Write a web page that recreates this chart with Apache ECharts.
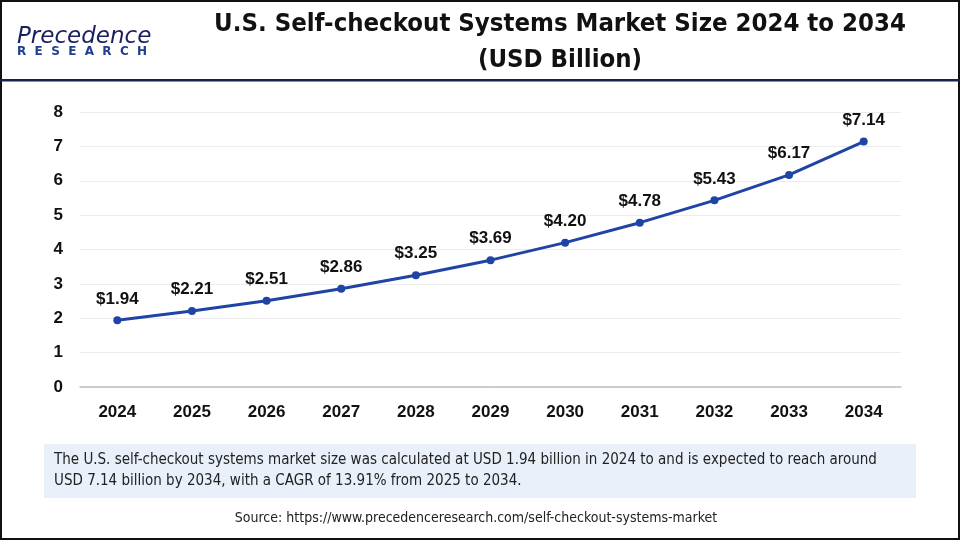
<!DOCTYPE html>
<html><head><meta charset="utf-8">
<script src="https://cdn.jsdelivr.net/npm/echarts@6/dist/echarts.min.js"></script>
<style>html,body{margin:0;padding:0;background:#fff}#c{width:960px;height:540px}</style>
</head><body><div id="c"></div>
<script>
const years = ['2024','2025','2026','2027','2028','2029','2030','2031','2032','2033','2034'];
const marketSize = [1.94,2.21,2.51,2.86,3.25,3.69,4.20,4.78,5.43,6.17,7.14];
const yTicks = [0,1,2,3,4,5,6,7,8];
const titleText = 'U.S. Self-checkout Systems Market Size 2024 to 2034\n(USD Billion)';
const noteText = 'The U.S. self-checkout systems market size was calculated at USD 1.94 billion in 2024 to and is expected to reach around\nUSD 7.14 billion by 2034, with a CAGR of 13.91% from 2025 to 2034.';
const sourceText = 'Source: https://www.precedenceresearch.com/self-checkout-systems-market';

const chart = echarts.init(document.getElementById('c'));
const narrow = '"Liberation Sans Narrow", "DejaVu Sans Condensed", Arial, sans-serif';
chart.setOption({
  animation: false,
  backgroundColor: '#fff',
  grid: {left: 80, right: 59, top: 112, bottom: 153},
  xAxis: {
    type: 'category', data: years, boundaryGap: true,
    axisLine: {lineStyle: {color: '#bfbfbf', width: 1.5}},
    axisTick: {show: false},
    axisLabel: {color: '#111', fontWeight: 'bold', fontSize: 17, fontFamily: 'Arial', margin: 17}
  },
  yAxis: {
    type: 'value', min: yTicks[0], max: yTicks[yTicks.length-1], interval: 1,
    axisLine: {show: false}, axisTick: {show: false},
    splitLine: {lineStyle: {color: '#ececec', width: 1}},
    axisLabel: {color: '#111', fontWeight: 'bold', fontSize: 17, fontFamily: 'Arial', margin: 17}
  },
  series: [{
    type: 'line', data: marketSize,
    symbol: 'circle', symbolSize: 8,
    lineStyle: {color: '#1f44a6', width: 3},
    itemStyle: {color: '#1f44a6'},
    label: {show: true, position: 'top', distance: 9, formatter: p => '$' + p.value.toFixed(2),
      color: '#111', fontWeight: 'bold', fontSize: 17, fontFamily: 'Arial'}
  }],
  graphic: [
    {type: 'rect', shape: {x: 1, y: 1, width: 958, height: 538}, style: {fill: 'none', stroke: '#111', lineWidth: 2}, silent: true},
    {type: 'rect', shape: {x: 0, y: 79, width: 960, height: 2.5}, style: {fill: '#1b1f4d'}, silent: true},
    {type: 'text', x: 560, y: 6, style: {text: titleText, font: 'bold 25.5px ' + narrow, fill: '#111', align: 'center', lineHeight: 36}},
    {type: 'text', x: 17, y: 26, style: {text: 'Precedence', font: 'italic 23px "DejaVu Sans", sans-serif', fill: '#1b1f5e'}},
    {type: 'text', x: 17, y: 46, style: {text: 'R  E  S  E  A  R  C  H', font: 'bold 12px "DejaVu Sans", sans-serif', fill: '#1f3f8f'}},
    {type: 'rect', shape: {x: 44, y: 444, width: 872, height: 54}, style: {fill: '#e9f0fa'}, silent: true},
    {type: 'text', x: 54, y: 450, style: {text: noteText, font: '15px ' + narrow, fill: '#222', lineHeight: 21}},
    {type: 'text', x: 476, y: 511, style: {text: sourceText, font: '14px ' + narrow, fill: '#222', align: 'center'}}
  ]
});
</script></body></html>
